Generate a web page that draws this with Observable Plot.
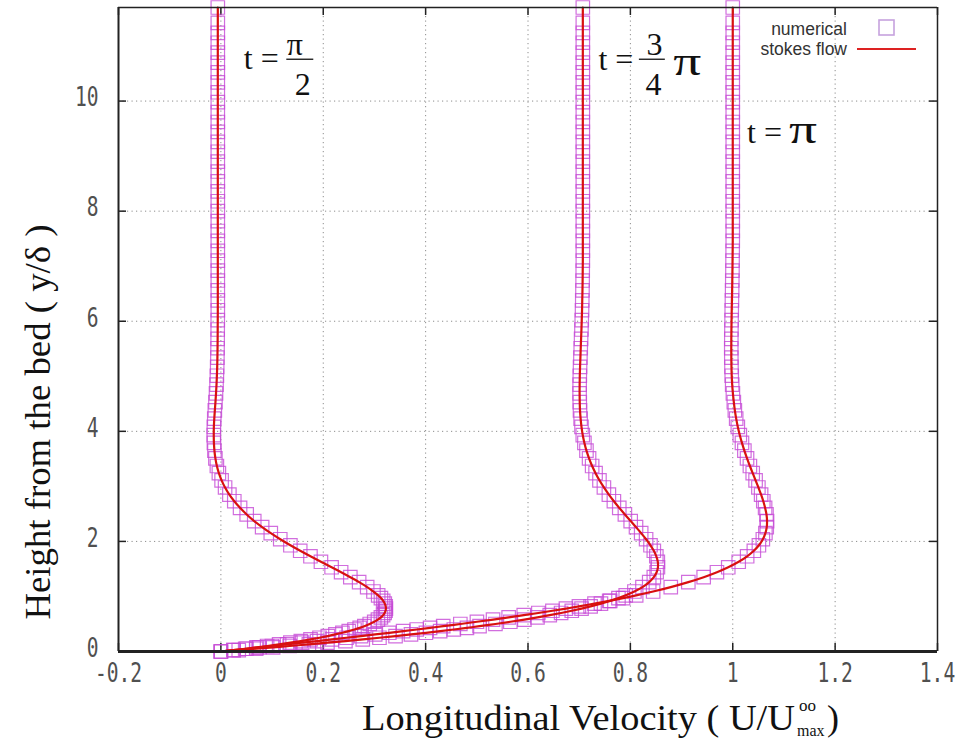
<!DOCTYPE html>
<html><head><meta charset="utf-8">
<script src="https://cdn.jsdelivr.net/npm/d3@7"></script>
<script src="https://cdn.jsdelivr.net/npm/@observablehq/plot@0.6"></script>
<style>
html,body{margin:0;padding:0;background:#fff;}
#chart{width:976px;height:738px;overflow:hidden;}
</style></head><body><div id="chart"></div>
<script>
// ---- data ----
const yLevels = [
 0, 0.025, 0.05, 0.075, 0.1, 0.13, 0.16, 0.19, 0.22, 0.25,
 0.28, 0.31, 0.34, 0.37, 0.4, 0.43, 0.46, 0.5, 0.54, 0.58,
 0.62, 0.66, 0.7, 0.74, 0.78, 0.82, 0.87, 0.92, 0.97, 1.02,
 1.09, 1.17, 1.26, 1.35, 1.44, 1.53, 1.63, 1.73, 1.83, 1.93,
 2.04, 2.15, 2.26, 2.37, 2.49, 2.61, 2.73, 2.85, 2.98, 3.11,
 3.24, 3.37, 3.51, 3.65, 3.79, 3.93, 4.08, 4.23, 4.38, 4.53,
 4.69, 4.85, 5.01, 5.17, 5.34, 5.51, 5.68, 5.85, 6.02, 6.2,
 6.38, 6.56, 6.74, 6.92, 7.1, 7.28, 7.46, 7.64, 7.82, 8.0,
 8.18, 8.36, 8.54, 8.72, 8.9, 9.08, 9.26, 9.44, 9.62, 9.8,
 9.98, 10.16, 10.34, 10.52, 10.7, 10.88, 11.06, 11.24, 11.42, 11.7
];
const uHalfPi = [
 0, 0.0244, 0.0475, 0.0695, 0.0903, 0.1138, 0.1358, 0.1562, 0.1751, 0.1927,
 0.2089, 0.2238, 0.2374, 0.2498, 0.2610, 0.2712, 0.2803, 0.2908, 0.2996, 0.3068,
 0.3126, 0.3169, 0.3199, 0.3217, 0.3224, 0.3220, 0.3202, 0.3171, 0.3127, 0.3073,
 0.2981, 0.2858, 0.2701, 0.2529, 0.2349, 0.2163, 0.1955, 0.1750, 0.1550, 0.1358,
 0.1160, 0.0975, 0.0806, 0.0652, 0.0504, 0.0375, 0.0262, 0.0166, 0.0082, 0.0014,
 -0.0039, -0.0078, -0.0107, -0.0126, -0.0136, -0.0139, -0.0137, -0.0129, -0.0118, -0.0106,
 -0.0095, -0.0085, -0.0078, -0.0072, -0.0068, -0.0065, -0.0063, -0.0062, -0.0061, -0.0060,
 -0.006, -0.006, -0.006, -0.006, -0.006, -0.006, -0.006, -0.006, -0.006, -0.006,
 -0.006, -0.006, -0.006, -0.006, -0.006, -0.006, -0.006, -0.006, -0.006, -0.006,
 -0.006, -0.006, -0.006, -0.006, -0.006, -0.006, -0.006, -0.006, -0.006, -0.006
];
const uThreeQuarterPi = [
 0, 0.0349, 0.0690, 0.1021, 0.1344, 0.1719, 0.2082, 0.2433, 0.2772, 0.3098,
 0.3412, 0.3714, 0.4005, 0.4284, 0.4551, 0.4807, 0.5053, 0.5364, 0.5655, 0.5929,
 0.6185, 0.6425, 0.6647, 0.6855, 0.7046, 0.7223, 0.7425, 0.7606, 0.7767, 0.7909,
 0.8079, 0.8236, 0.8368, 0.8458, 0.8513, 0.8538, 0.8536, 0.8507, 0.8458, 0.8393,
 0.8307, 0.8211, 0.8110, 0.8006, 0.7893, 0.7783, 0.7678, 0.7580, 0.7483, 0.7396,
 0.7320, 0.7253, 0.7193, 0.7142, 0.7102, 0.7070, 0.7045, 0.7028, 0.7016, 0.7011,
 0.7008, 0.7009, 0.7012, 0.7017, 0.7024, 0.7030, 0.7037, 0.7044, 0.7050, 0.7056,
 0.7060, 0.7064, 0.7067, 0.7069, 0.7071, 0.7071, 0.7071, 0.7071, 0.7071, 0.7071,
 0.7071, 0.7071, 0.7071, 0.7071, 0.7071, 0.7071, 0.7071, 0.7071, 0.7071, 0.7071,
 0.7071, 0.7071, 0.7071, 0.7071, 0.7071, 0.7071, 0.7071, 0.7071, 0.7071, 0.7071
];
const uPi = [
 0, 0.0250, 0.0500, 0.0749, 0.0997, 0.1293, 0.1587, 0.1879, 0.2168, 0.2454,
 0.2737, 0.3015, 0.3290, 0.3560, 0.3826, 0.4087, 0.4344, 0.4678, 0.5002, 0.5317,
 0.5622, 0.5917, 0.6202, 0.6477, 0.6741, 0.6995, 0.7299, 0.7586, 0.7857, 0.8113,
 0.8445, 0.8789, 0.9132, 0.9432, 0.9691, 0.9912, 1.0116, 1.0281, 1.0412, 1.0511,
 1.0588, 1.0638, 1.0664, 1.0670, 1.0659, 1.0632, 1.0597, 1.0554, 1.0501, 1.0446,
 1.0390, 1.0335, 1.0279, 1.0227, 1.0180, 1.0138, 1.0099, 1.0067, 1.0041, 1.0021,
 1.0003, 0.9989, 0.9980, 0.9975, 0.9972, 0.9971, 0.9972, 0.9974, 0.9977, 0.9980,
 0.9984, 0.9988, 0.9991, 0.9994, 0.9996, 0.9998, 1, 1, 1, 1,
 1, 1, 1, 1, 1, 1, 1, 1, 1, 1,
 1, 1, 1, 1, 1, 1, 1, 1, 1, 1
];
const seriesNames = ["t = π/2", "t = 3π/4", "t = π"];

const xTicks = [-0.2, 0, 0.2, 0.4, 0.6, 0.8, 1, 1.2, 1.4];
const xTickLabels = ["-0.2", "0", "0.2", "0.4", "0.6", "0.8", "1", "1.2", "1.4"];
const yTicks = [0, 2, 4, 6, 8, 10];
const yTickLabels = ["0", "2", "4", "6", "8", "10"];
const xGrid = [0, 0.2, 0.4, 0.6, 0.8, 1, 1.2];
const yGrid = [2, 4, 6, 8, 10];
const xDomain = [-0.2, 1.4];
const yDomain = [0, 11.7];

// annotations (data coordinates)
const annoText   = ["t =", "π", "2", "t =", "3", "4", "t ="];
const annoX      = [0.0449, 0.1444, 0.160, 0.7376, 0.847, 0.845, 1.028];
const annoY      = [10.58, 10.84, 10.11, 10.56, 10.84, 10.11, 9.24];
const annoAnchor = ["start", "middle", "middle", "start", "middle", "middle", "start"];
const piText = ["π", "π"];
const piX = [0.884, 1.110];
const piY = [10.47, 9.24];
const fracY  = [10.76, 10.76];
const fracX1 = [0.1288, 0.8176];
const fracX2 = [0.1815, 0.8683];

const legendLabels = ["numerical", "stokes flow"];

// ---- layout ----
const W = 976, H = 738, mL = 118, mR = 39, mT = 7, mB = 87;
const innerW = W - mL - mR, innerH = H - mT - mB;

const data = [];
[uHalfPi, uThreeQuarterPi, uPi].forEach((arr, k) =>
  arr.forEach((u, i) => data.push({series: seriesNames[k], u, y: yLevels[i]})));

const annos = annoText.map((t, i) => ({t, x: annoX[i], y: annoY[i], a: annoAnchor[i]}));
const pis = piText.map((t, i) => ({t, x: piX[i], y: piY[i]}));
const fracs = fracY.map((y, i) => ({y, x1: fracX1[i], x2: fracX2[i]}));

const serif = "Liberation Serif, Times New Roman, serif";
const mono = "DejaVu Sans Mono, monospace";

const plot = Plot.plot({
  width: W, height: H,
  marginLeft: mL, marginRight: mR, marginTop: mT, marginBottom: mB,
  x: {domain: xDomain, axis: null},
  y: {domain: yDomain, axis: null},
  style: {background: "#fff"},
  marks: [
    Plot.ruleX(xGrid, {stroke: "#8c8c8c", strokeDasharray: "1.2,3.3", strokeWidth: 1}),
    Plot.ruleY(yGrid, {stroke: "#8c8c8c", strokeDasharray: "1.2,3.3", strokeWidth: 1}),
    Plot.ruleX(xTicks, {insetTop: innerH - 8, stroke: "#222", strokeWidth: 1.5}),
    Plot.ruleX(xTicks, {insetBottom: innerH - 8, stroke: "#222", strokeWidth: 1.5}),
    Plot.ruleY(yTicks, {insetRight: innerW - 8, stroke: "#222", strokeWidth: 1.5}),
    Plot.ruleY(yTicks, {insetLeft: innerW - 8, stroke: "#222", strokeWidth: 1.5}),
    Plot.dot(data, {x: "u", y: "y", symbol: "square", r: 7.6, stroke: "#c64ad6", strokeOpacity: 0.8, strokeWidth: 1.2, fill: "none"}),
    Plot.line(data, {x: "u", y: "y", z: "series", curve: "catmull-rom", stroke: "#d81010", strokeWidth: 2.2}),
    Plot.ruleY([yDomain[0]], {stroke: "#222", strokeWidth: 3}),
    Plot.ruleX([xDomain[0]], {stroke: "#222", strokeWidth: 2}),
    Plot.ruleY([yDomain[1]], {stroke: "#222", strokeWidth: 1.5}),
    Plot.ruleX([xDomain[1]], {stroke: "#222", strokeWidth: 1.5}),
    Plot.axisX(xTicks, {anchor: "bottom", tickSize: 0, tickPadding: 12, label: null,
      tickFormat: d => xTickLabels[xTicks.indexOf(d)], fontSize: 26, fontFamily: mono, fill: "#505050"}),
    Plot.axisY(yTicks, {anchor: "left", tickSize: 0, tickPadding: 20, label: null, dy: -3,
      tickFormat: d => yTickLabels[yTicks.indexOf(d)], fontSize: 26, fontFamily: mono, fill: "#505050"}),
    Plot.text(annos.filter(d => d.a === "start"), {x: "x", y: "y", text: "t", textAnchor: "start", lineAnchor: "bottom",
      fontSize: 32, fontFamily: serif, fill: "#111"}),
    Plot.text(annos.filter(d => d.a === "middle"), {x: "x", y: "y", text: "t", textAnchor: "middle", lineAnchor: "bottom",
      fontSize: 32, fontFamily: serif, fill: "#111"}),
    Plot.text(pis, {x: "x", y: "y", text: "t", textAnchor: "start", lineAnchor: "bottom",
      fontSize: 40, fontFamily: serif, fill: "#111"}),
    Plot.ruleY(fracs, {y: "y", x1: "x1", x2: "x2", stroke: "#111", strokeWidth: 1.3})
  ]
});

document.getElementById("chart").appendChild(plot);
const svg = d3.select(plot);

// tall narrow tick digits like the reference (mono font texts)
svg.selectAll("text").each(function() {
  const el = this.closest("[font-family]");
  const fam = el ? (el.getAttribute("font-family") || "") : "";
  if (fam.indexOf("Mono") >= 0) {
    this.setAttribute("textLength", this.textContent.length * 11.8);
    this.setAttribute("lengthAdjust", "spacingAndGlyphs");
  }
});
// wider standalone pi glyphs (the 40px ones)
svg.selectAll("text").each(function() {
  if (this.textContent !== "π") return;
  const fsEl = this.closest("[font-size]");
  const fs = fsEl ? fsEl.getAttribute("font-size") : "";
  if (String(fs).indexOf("40") === 0) {
    this.setAttribute("textLength", 28);
    this.setAttribute("lengthAdjust", "spacingAndGlyphs");
  }
});

// legend
const lg = svg.append("g").attr("font-family", "Liberation Sans, Arial, sans-serif").attr("font-size", 17.5).attr("fill", "#333");
lg.append("text").attr("x", 847).attr("y", 35).attr("text-anchor", "end").text(legendLabels[0]);
lg.append("rect").attr("x", 879).attr("y", 20).attr("width", 15).attr("height", 15).attr("fill", "none").attr("stroke", "#c6a2de").attr("stroke-width", 1.6);
lg.append("text").attr("x", 847).attr("y", 55).attr("text-anchor", "end").text(legendLabels[1]);
lg.append("line").attr("x1", 857).attr("x2", 916).attr("y1", 49).attr("y2", 49).attr("stroke", "#dd2222").attr("stroke-width", 2);

// axis titles
const xt = svg.append("g").attr("font-family", serif).attr("fill", "#111").attr("text-anchor", "start");
xt.append("text").attr("x", 362).attr("y", 730).attr("font-size", 36).attr("text-anchor", "start")
  .attr("textLength", 433).attr("lengthAdjust", "spacingAndGlyphs").text("Longitudinal Velocity ( U/U");
xt.append("text").attr("x", 799).attr("y", 711).attr("font-size", 17).attr("text-anchor", "start").text("oo");
xt.append("text").attr("x", 797).attr("y", 736).attr("font-size", 16).attr("text-anchor", "start").text("max");
xt.append("text").attr("x", 827).attr("y", 730).attr("font-size", 36).attr("text-anchor", "start").text(")");

svg.append("text").attr("transform", "translate(50,422) rotate(-90)").attr("text-anchor", "middle")
  .attr("font-family", serif).attr("font-size", 36).attr("fill", "#111")
  .attr("textLength", 395).attr("lengthAdjust", "spacingAndGlyphs")
  .text("Height from the bed ( y/δ )");
</script></body></html>
